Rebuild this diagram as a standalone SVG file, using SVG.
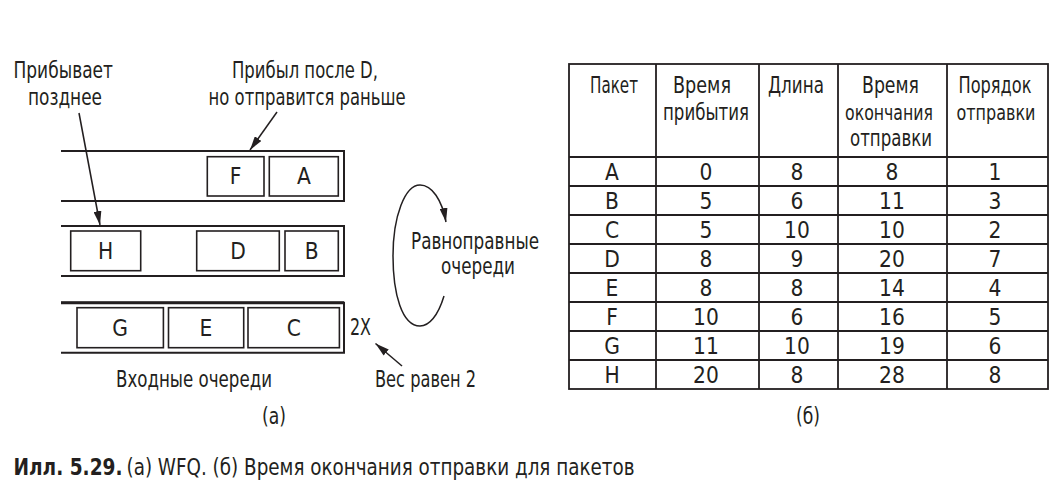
<svg xmlns="http://www.w3.org/2000/svg" width="1052" height="497" viewBox="0 0 1052 497">
<defs>
<style>
text{font-family:"Liberation Sans Narrow","DejaVu Sans Condensed","Liberation Sans",sans-serif;font-size:22.5px;fill:#231f20;}
.m{text-anchor:middle;}
.b{font-weight:bold;}
.s{font-size:20.5px;}
.q{fill:none;stroke:#231f20;stroke-width:2;}
.box{fill:#fff;stroke:#231f20;stroke-width:1.6;}
.conn{fill:none;stroke:#231f20;stroke-width:1.5;}
.grid{fill:none;stroke:#231f20;stroke-width:1.8;}
</style>
<marker id="ah" viewBox="0 0 14 8" refX="14" refY="4" markerWidth="14" markerHeight="8" markerUnits="userSpaceOnUse" orient="auto">
<path d="M0,0 L14,4 L0,8 Z" fill="#231f20"/>
</marker>
</defs>
<rect width="1052" height="497" fill="#fff"/>

<g id="labels">
<text x="13.5" y="78" textLength="99.5" lengthAdjust="spacingAndGlyphs">Прибывает</text>
<text x="28" y="105" textLength="74" lengthAdjust="spacingAndGlyphs">позднее</text>
<text x="232" y="78" textLength="146" lengthAdjust="spacingAndGlyphs">Прибыл после D,</text>
<text x="208.6" y="105" textLength="197" lengthAdjust="spacingAndGlyphs">но отправится раньше</text>
<text x="411" y="249" textLength="128" lengthAdjust="spacingAndGlyphs">Равноправные</text>
<text x="441" y="274" textLength="74" lengthAdjust="spacingAndGlyphs">очереди</text>
<text x="116" y="387" textLength="156" lengthAdjust="spacingAndGlyphs">Входные очереди</text>
<text x="375" y="387" textLength="101" lengthAdjust="spacingAndGlyphs">Вес равен 2</text>
<text x="350" y="335" textLength="21" lengthAdjust="spacingAndGlyphs">2X</text>
<text x="262" y="424" textLength="24" lengthAdjust="spacingAndGlyphs">(а)</text>
<text x="796" y="424" textLength="24" lengthAdjust="spacingAndGlyphs">(б)</text>
<text class="b" x="13.5" y="475" textLength="109" lengthAdjust="spacingAndGlyphs">Илл. 5.29.</text>
<text x="126.5" y="475" textLength="508" lengthAdjust="spacingAndGlyphs">(а) WFQ. (б) Время окончания отправки для пакетов</text>
</g>

<g id="queue1">
<path class="q" d="M61,151 H344 V201 H61"/>
</g>
<g id="queue2">
<path class="q" d="M61,226 H344 V276 H61"/>
</g>
<g id="queue3">
<path class="q" d="M61,302.7 H344 V352.7 H61"/>
<line x1="61" y1="302.7" x2="344" y2="302.7" stroke="#231f20" stroke-width="3"/>
</g>

<g id="packet-F"><rect class="box" x="207.3" y="156.7" width="56.7" height="39.3"/><text class="m" x="235.7" y="184">F</text></g>
<g id="packet-A"><rect class="box" x="269.3" y="156.7" width="69" height="39.3"/><text class="m" x="303.8" y="184">A</text></g>
<g id="packet-H"><rect class="box" x="70.7" y="231" width="70" height="39.7"/><text class="m" x="105.7" y="258.5">H</text></g>
<g id="packet-D"><rect class="box" x="196.7" y="231" width="82.6" height="39.7"/><text class="m" x="238" y="258.5">D</text></g>
<g id="packet-B"><rect class="box" x="285" y="231" width="53.3" height="39.7"/><text class="m" x="311.7" y="258.5">B</text></g>
<g id="packet-G"><rect class="box" x="77" y="307.7" width="86.4" height="40"/><text class="m" x="120.2" y="335.5">G</text></g>
<g id="packet-E"><rect class="box" x="168.5" y="307.7" width="75.2" height="40"/><text class="m" x="206" y="335.5">E</text></g>
<g id="packet-C"><rect class="box" x="248" y="307.7" width="91.4" height="40"/><text class="m" x="293.7" y="335.5">C</text></g>

<g id="connectors">
<line class="conn" x1="79" y1="113" x2="100" y2="225" marker-end="url(#ah)"/>
<line class="conn" x1="277" y1="112" x2="250" y2="150" marker-end="url(#ah)"/>
<line class="conn" x1="402" y1="366" x2="375.5" y2="343.5" marker-end="url(#ah)"/>
<path class="conn" d="M444,296 C438,316 429,326 420,326 C402,326 393,294 393,256 C393,216 405,185 420,185 C432,185 442,200 446,222" marker-end="url(#ah)"/>
</g>

<g id="table">
<rect class="grid" x="569" y="64" width="479" height="325"/>
<path class="grid" d="M656,64 V389 M759,64 V389 M838,64 V389 M947,64 V389 M569,157 H1048 M569,186 H1048 M569,215 H1048 M569,244 H1048 M569,273 H1048 M569,302 H1048 M569,331 H1048 M569,360 H1048"/>
<text class="m" x="614" y="93" textLength="48" lengthAdjust="spacingAndGlyphs">Пакет</text>
<text class="m" x="702" y="93" textLength="58" lengthAdjust="spacingAndGlyphs">Время</text>
<text class="m" x="706" y="119.5" textLength="86" lengthAdjust="spacingAndGlyphs">прибытия</text>
<text class="m" x="796" y="93" textLength="56" lengthAdjust="spacingAndGlyphs">Длина</text>
<text class="m" x="890.5" y="93" textLength="57" lengthAdjust="spacingAndGlyphs">Время</text>
<text class="m s" x="889" y="119.5" textLength="88" lengthAdjust="spacingAndGlyphs">окончания</text>
<text class="m" x="891" y="146" textLength="82" lengthAdjust="spacingAndGlyphs">отправки</text>
<text class="m" x="995" y="93" textLength="73" lengthAdjust="spacingAndGlyphs">Порядок</text>
<text class="m s" x="996" y="119.5" textLength="79" lengthAdjust="spacingAndGlyphs">отправки</text>
<g>
<text class="m" x="612" y="180">A</text><text class="m" x="706" y="180">0</text><text class="m" x="797" y="180">8</text><text class="m" x="892" y="180">8</text><text class="m" x="995" y="180">1</text>
<text class="m" x="612" y="209">B</text><text class="m" x="706" y="209">5</text><text class="m" x="797" y="209">6</text><text class="m" x="892" y="209">11</text><text class="m" x="995" y="209">3</text>
<text class="m" x="612" y="238">C</text><text class="m" x="706" y="238">5</text><text class="m" x="797" y="238">10</text><text class="m" x="892" y="238">10</text><text class="m" x="995" y="238">2</text>
<text class="m" x="612" y="267">D</text><text class="m" x="706" y="267">8</text><text class="m" x="797" y="267">9</text><text class="m" x="892" y="267">20</text><text class="m" x="995" y="267">7</text>
<text class="m" x="612" y="296">E</text><text class="m" x="706" y="296">8</text><text class="m" x="797" y="296">8</text><text class="m" x="892" y="296">14</text><text class="m" x="995" y="296">4</text>
<text class="m" x="612" y="325">F</text><text class="m" x="706" y="325">10</text><text class="m" x="797" y="325">6</text><text class="m" x="892" y="325">16</text><text class="m" x="995" y="325">5</text>
<text class="m" x="612" y="354">G</text><text class="m" x="706" y="354">11</text><text class="m" x="797" y="354">10</text><text class="m" x="892" y="354">19</text><text class="m" x="995" y="354">6</text>
<text class="m" x="612" y="383">H</text><text class="m" x="706" y="383">20</text><text class="m" x="797" y="383">8</text><text class="m" x="892" y="383">28</text><text class="m" x="995" y="383">8</text>
</g>
</g>
</svg>
